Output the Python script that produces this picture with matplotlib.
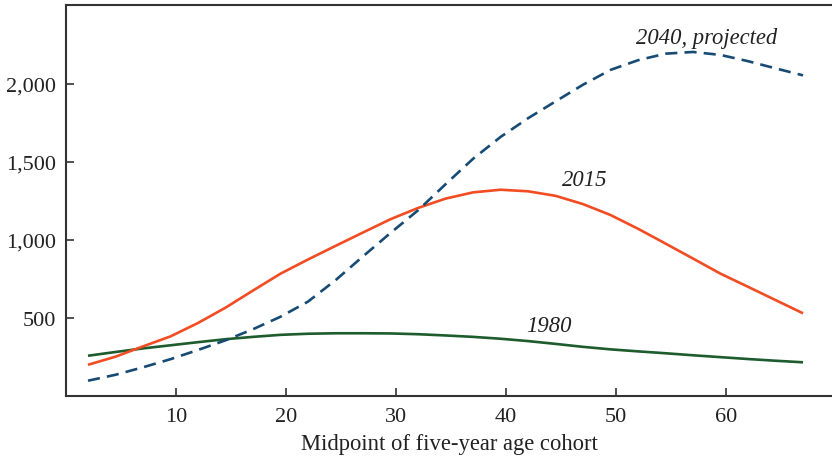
import matplotlib
matplotlib.use("Agg")
import matplotlib.pyplot as plt

# Midpoints of age cohorts (read at half-cohort steps)
ages = [2, 4.5, 7, 9.5, 12, 14.5, 17, 19.5, 22, 24.5, 27, 29.5, 32, 34.5,
        37, 39.5, 42, 44.5, 47, 49.5, 52, 54.5, 57, 59.5, 62, 64.5, 67]
pop_1980 = [258, 282, 305, 325, 345, 364, 379, 392, 399, 402, 402, 401, 396, 388,
            379, 367, 352, 334, 315, 299, 286, 274, 261, 249, 237, 226, 216]
pop_2015 = [200, 252, 318, 382, 468, 566, 676, 784, 875, 962, 1048, 1133, 1205, 1265,
            1305, 1322, 1312, 1283, 1230, 1160, 1072, 977, 881, 784, 700, 615, 530]
pop_2040 = [98, 136, 184, 236, 295, 357, 428, 508, 605, 742, 895, 1045, 1190, 1357,
            1520, 1660, 1780, 1888, 1995, 2090, 2152, 2194, 2205, 2186, 2146, 2100, 2055]

xticks = [10, 20, 30, 40, 50, 60]
yticks = [500, 1000, 1500, 2000]
ytick_labels = ["500", "1,000", "1,500", "2,000"]

plt.rcParams['font.family'] = ['Liberation Serif', 'DejaVu Serif']
txt = '#222222'

fig = plt.figure(figsize=(8.32, 4.6), dpi=100)
ax = fig.add_axes([66/832, 1 - 397/460, 1 - 66/832, (397-6)/460])

ax.plot(ages, pop_1980, color='#1d5c2c', lw=1.9, solid_capstyle='butt', solid_joinstyle='round')
ax.plot(ages, pop_2015, color='#f24c23', lw=1.9, solid_capstyle='butt', solid_joinstyle='round')
ax.plot(ages, pop_2040, color='#174b73', lw=1.9, dashes=(4.6, 2.7))

ax.set_xlim(0, (832 - 66) / 11)
ax.set_ylim(0, 2506)

ax.set_xticks(xticks)
ax.set_yticks(yticks)
ax.set_yticklabels(ytick_labels)
ax.tick_params(direction='in', length=6, width=1.2, color='#333333',
               labelsize=16, labelcolor=txt)
ax.tick_params(axis='y', pad=7)
ax.tick_params(axis='x', pad=8)

for s in ['left', 'bottom', 'top']:
    ax.spines[s].set_color('#333333')
    ax.spines[s].set_linewidth(1.5)
ax.spines['right'].set_visible(False)

ax.set_xlabel('Midpoint of five-year age cohort', fontsize=16.3, color=txt, labelpad=5)

ax.text(58.2, 2300, '2040, projected', fontsize=16.3, style='italic', color=txt,
        ha='center', va='center')
ax.text(47.2, 1385, '2015', fontsize=16.3, style='italic', color=txt,
        ha='center', va='center')
ax.text(43.9, 455, '1980', fontsize=16.3, style='italic', color=txt,
        ha='center', va='center')

fig.savefig('out.png', dpi=100)
